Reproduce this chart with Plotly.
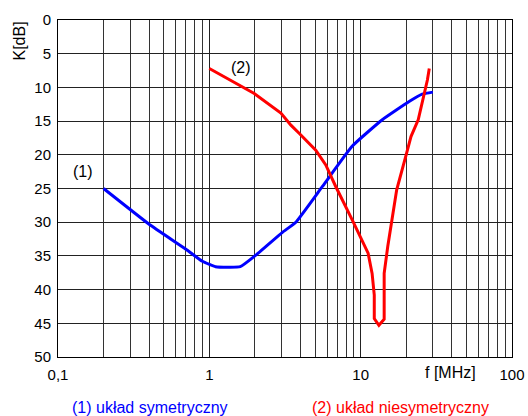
import plotly.graph_objects as go

# Data
freq_sym = [0.2, 0.4, 0.7, 0.9, 1.1, 1.6, 2.0, 3.04, 3.73, 5.59, 8.81, 13.9, 20.9, 25.5, 30]
k_sym = [25.0, 30.3, 34.0, 35.8, 36.6, 36.6, 35.0, 31.5, 30.0, 24.7, 18.7, 14.8, 12.1, 11.0, 10.7]

freq_asym = [1.0, 1.46, 1.98, 2.97, 3.46, 3.92, 5.05, 5.88, 6.84, 8.81, 10.1, 11.2, 11.9, 12.3, 12.3,
             13.2, 14.3, 14.3, 15.1, 16.1, 17.3, 20.1, 21.5, 24.0, 26.5, 27.6, 28.4]
k_asym = [7.2, 9.2, 10.9, 13.8, 15.6, 16.8, 19.3, 21.5, 24.7, 29.7, 32.6, 34.6, 37.6, 40.8, 44.3,
          45.3, 44.4, 37.6, 33.6, 29.7, 25.2, 19.8, 17.3, 14.8, 10.9, 8.9, 7.2]

x_tickvals = [0.1, 1, 10, 100]
x_ticktext = ["0,1", "1", "10", "100"]
y_tickvals = [0, 5, 10, 15, 20, 25, 30, 35, 40, 45, 50]
minor_vals = [m * d for d in (0.1, 1, 10) for m in range(2, 10)]

FONT = "Liberation Sans, Arial, sans-serif"
W, H = 528, 416
ML, MR, MT, MB = 58, 16, 20, 59
pw, ph = W - ML - MR, H - MT - MB


def px2paper(px, py):
    return (px - ML) / pw, 1 - (py - MT) / ph


fig = go.Figure()
fig.add_trace(go.Scatter(x=freq_sym, y=k_sym, mode="lines",
                         line=dict(color="#0000FF", width=3, shape="spline", smoothing=0.4),
                         showlegend=False))
fig.add_trace(go.Scatter(x=freq_asym, y=k_asym, mode="lines",
                         line=dict(color="#FF0000", width=3), showlegend=False))

texts = [
    # (px, py, text, color, angle)
    (18.5, 41, "K[dB]", "black", -90),
    (450, 372, "f [MHz]", "black", 0),
    (150, 407, "(1) układ symetryczny", "#0000FF", 0),
    (400, 407, "(2) układ niesymetryczny", "#FF0000", 0),
]
annotations = [
    dict(x=-0.832, y=22.5, xref="x", yref="y", text="(1)", showarrow=False,
         xanchor="center", yanchor="middle", font=dict(size=16, color="black")),
    dict(x=0.207, y=7.0, xref="x", yref="y", text="(2)", showarrow=False,
         xanchor="center", yanchor="middle", font=dict(size=16, color="black")),
]
for px, py, t, c, ang in texts:
    x, y = px2paper(px, py)
    annotations.append(dict(x=x, y=y, xref="paper", yref="paper", text=t, textangle=ang,
                            xanchor="center", yanchor="middle", showarrow=False,
                            font=dict(size=16, color=c)))

fig.update_layout(
    width=W, height=H,
    margin=dict(l=ML, r=MR, t=MT, b=MB, autoexpand=False),
    paper_bgcolor="white", plot_bgcolor="white",
    font=dict(family=FONT, size=15, color="black"),
    xaxis=dict(type="log", range=[-1, 2], tickvals=x_tickvals, ticktext=x_ticktext,
               showgrid=True, gridcolor="#222222", gridwidth=1,
               minor=dict(tickvals=minor_vals, showgrid=True, gridcolor="#333333", gridwidth=1, ticks=""),
               showline=True, linecolor="black", linewidth=1, mirror=True,
               ticks="", zeroline=False, tickfont=dict(size=15), ticklabelstandoff=4),
    yaxis=dict(range=[50, 0], tickvals=y_tickvals,
               showgrid=True, gridcolor="#222222", gridwidth=1,
               showline=True, linecolor="black", linewidth=1, mirror=True,
               ticks="", zeroline=False, tickfont=dict(size=15), ticklabelstandoff=3),
    annotations=annotations,
)

fig.write_html("out.html", config={"displayModeBar": False},
               post_script="document.body.style.margin='0';")
